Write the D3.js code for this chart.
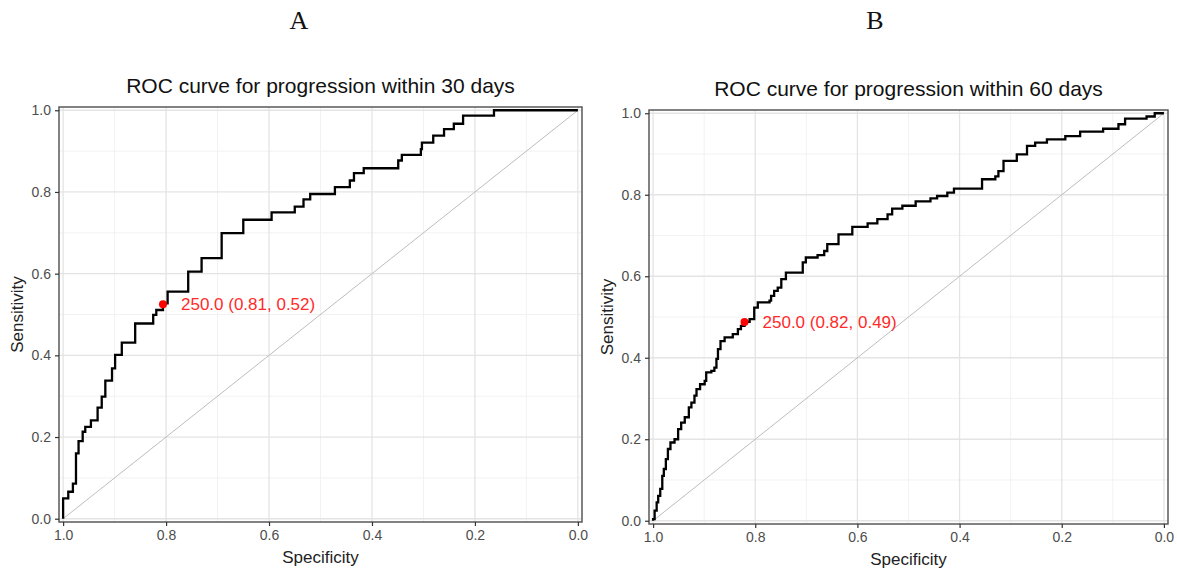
<!DOCTYPE html>
<html>
<head>
<meta charset="utf-8">
<script src="https://cdn.jsdelivr.net/npm/d3@7"></script>
<style>
  body { margin: 0; background: #fff; }
  text { font-family: "Liberation Sans", Arial, sans-serif; }
</style>
</head>
<body>
<script>
// ROC data (specificity, sensitivity)
const specA = [1.000,1.000,0.990,0.981,0.975,0.970,0.962,0.957,0.946,0.933,0.925,0.918,0.905,0.899,0.886,0.860,0.825,0.819,0.806,0.797,0.757,0.731,0.692,0.650,0.595,0.550,0.533,0.520,0.472,0.443,0.435,0.416,0.349,0.342,0.305,0.303,0.281,0.260,0.241,0.223,0.163,0.000];
const sensA = [0.000,0.050,0.066,0.086,0.160,0.190,0.213,0.225,0.241,0.272,0.299,0.338,0.368,0.401,0.431,0.478,0.499,0.511,0.527,0.556,0.605,0.638,0.699,0.732,0.750,0.764,0.782,0.795,0.812,0.828,0.846,0.858,0.877,0.891,0.905,0.921,0.938,0.954,0.967,0.987,1.000,1.000];

const specB = [1.000,1.000,0.997,0.993,0.990,0.986,0.982,0.979,0.975,0.971,0.966,0.958,0.951,0.945,0.938,0.930,0.925,0.919,0.915,0.908,0.899,0.896,0.886,0.880,0.876,0.873,0.868,0.860,0.844,0.834,0.828,0.821,0.811,0.802,0.795,0.772,0.769,0.763,0.756,0.749,0.740,0.707,0.701,0.678,0.665,0.659,0.637,0.610,0.580,0.561,0.541,0.532,0.512,0.486,0.457,0.444,0.424,0.411,0.356,0.330,0.324,0.314,0.288,0.268,0.252,0.229,0.193,0.164,0.119,0.089,0.076,0.034,0.018,0.000];
const sensB = [0.000,0.004,0.025,0.045,0.061,0.078,0.110,0.127,0.151,0.176,0.192,0.200,0.225,0.241,0.254,0.278,0.290,0.307,0.323,0.335,0.343,0.364,0.368,0.376,0.397,0.421,0.441,0.450,0.458,0.470,0.478,0.488,0.495,0.523,0.536,0.540,0.552,0.564,0.572,0.593,0.609,0.634,0.646,0.652,0.662,0.679,0.703,0.721,0.730,0.740,0.752,0.766,0.773,0.784,0.791,0.797,0.805,0.815,0.838,0.845,0.858,0.883,0.899,0.920,0.928,0.936,0.944,0.955,0.962,0.973,0.987,0.992,1.000,1.000];

const panelLetters = ["A", "B"];
const titles = ["ROC curve for progression within 30 days", "ROC curve for progression within 60 days"];
const bestSpec = [0.806, 0.821];
const bestSens = [0.525, 0.488];
const bestLabels = ["250.0 (0.81, 0.52)", "250.0 (0.82, 0.49)"];

const xTicks = [1.0, 0.8, 0.6, 0.4, 0.2, 0.0];
const yTicks = [0.0, 0.2, 0.4, 0.6, 0.8, 1.0];
const minorTicks = [0.1, 0.3, 0.5, 0.7, 0.9];

const W = 1177, H = 570;
const svg = d3.select("body").append("svg")
    .attr("width", W)
    .attr("height", H);

// panel frames in pixels
const panels = [
  {left: 59, right: 582, top: 107, bottom: 522, letterX: 299, spec: specA, sens: sensA},
  {left: 649, right: 1168, top: 110, bottom: 524, letterX: 875, spec: specB, sens: sensB}
];

const fmt = d3.format(".1f");
const ex = 0.008;

panels.forEach((p, i) => {
  const x = d3.scaleLinear().domain([1 + ex, -ex]).range([p.left, p.right]);
  const y = d3.scaleLinear().domain([-ex, 1 + ex]).range([p.bottom, p.top]);
  const cx = (p.left + p.right) / 2;
  const g = svg.append("g");

  // panel letter
  svg.append("text")
      .attr("x", p.letterX)
      .attr("y", 29)
      .attr("text-anchor", "middle")
      .style("font-family", "'Liberation Serif', 'Times New Roman', serif")
      .style("font-size", "26px")
      .attr("fill", "#111")
      .text(panelLetters[i]);

  // grid
  g.selectAll(".vminor").data(minorTicks).enter().append("line")
      .attr("x1", d => x(d)).attr("x2", d => x(d))
      .attr("y1", p.top).attr("y2", p.bottom)
      .attr("stroke", "#f2f2f2").attr("stroke-width", 1);
  g.selectAll(".hminor").data(minorTicks).enter().append("line")
      .attr("y1", d => y(d)).attr("y2", d => y(d))
      .attr("x1", p.left).attr("x2", p.right)
      .attr("stroke", "#f2f2f2").attr("stroke-width", 1);
  g.selectAll(".vmajor").data(xTicks).enter().append("line")
      .attr("x1", d => x(d)).attr("x2", d => x(d))
      .attr("y1", p.top).attr("y2", p.bottom)
      .attr("stroke", "#e4e4e4").attr("stroke-width", 1.3);
  g.selectAll(".hmajor").data(yTicks).enter().append("line")
      .attr("y1", d => y(d)).attr("y2", d => y(d))
      .attr("x1", p.left).attr("x2", p.right)
      .attr("stroke", "#e4e4e4").attr("stroke-width", 1.3);

  // diagonal reference
  g.append("line")
      .attr("x1", x(1)).attr("y1", y(0))
      .attr("x2", x(0)).attr("y2", y(1))
      .attr("stroke", "#bdbdbd").attr("stroke-width", 1);

  // ROC curve
  const pts = p.spec.map((s, k) => [s, p.sens[k]]);
  const line = d3.line()
      .x(d => x(d[0]))
      .y(d => y(d[1]))
      .curve(d3.curveStepAfter);
  g.append("path")
      .datum(pts)
      .attr("d", line)
      .attr("fill", "none")
      .attr("stroke", "#000")
      .attr("stroke-width", 2.3);

  // best threshold
  g.append("circle")
      .attr("cx", x(bestSpec[i])).attr("cy", y(bestSens[i]))
      .attr("r", 4)
      .attr("fill", "#ff0000");
  g.append("text")
      .attr("x", x(bestSpec[i]) + 18)
      .attr("y", y(bestSens[i]) + 6)
      .attr("fill", "#ff2a2a")
      .style("font-size", "17px")
      .text(bestLabels[i]);

  // border
  g.append("rect")
      .attr("x", p.left).attr("y", p.top)
      .attr("width", p.right - p.left).attr("height", p.bottom - p.top)
      .attr("fill", "none")
      .attr("stroke", "#4d4d4d")
      .attr("stroke-width", 1.4);

  // axes
  const xa = g.append("g")
      .attr("transform", `translate(0,${p.bottom})`)
      .call(d3.axisBottom(x).tickValues(xTicks).tickFormat(fmt).tickSize(4).tickPadding(4));
  const ya = g.append("g")
      .attr("transform", `translate(${p.left},0)`)
      .call(d3.axisLeft(y).tickValues(yTicks).tickFormat(fmt).tickSize(4).tickPadding(4));
  [xa, ya].forEach(a => {
    a.select(".domain").remove();
    a.selectAll(".tick line").attr("stroke", "#333").attr("stroke-width", 1.2);
    a.selectAll(".tick text")
        .attr("fill", "#4d4d4d")
        .style("font-size", "14px")
        .style("font-family", "'Liberation Sans', Arial, sans-serif");
  });

  // titles
  svg.append("text")
      .attr("x", cx)
      .attr("y", p.top - 14)
      .attr("text-anchor", "middle")
      .attr("fill", "#111")
      .style("font-size", "21px")
      .text(titles[i]);
  svg.append("text")
      .attr("x", cx)
      .attr("y", p.bottom + 41)
      .attr("text-anchor", "middle")
      .attr("fill", "#222")
      .style("font-size", "17px")
      .text("Specificity");
  svg.append("text")
      .attr("transform", `translate(${p.left - 36},${(p.top + p.bottom) / 2}) rotate(-90)`)
      .attr("text-anchor", "middle")
      .attr("fill", "#222")
      .style("font-size", "17px")
      .text("Sensitivity");
});
</script>
</body>
</html>
